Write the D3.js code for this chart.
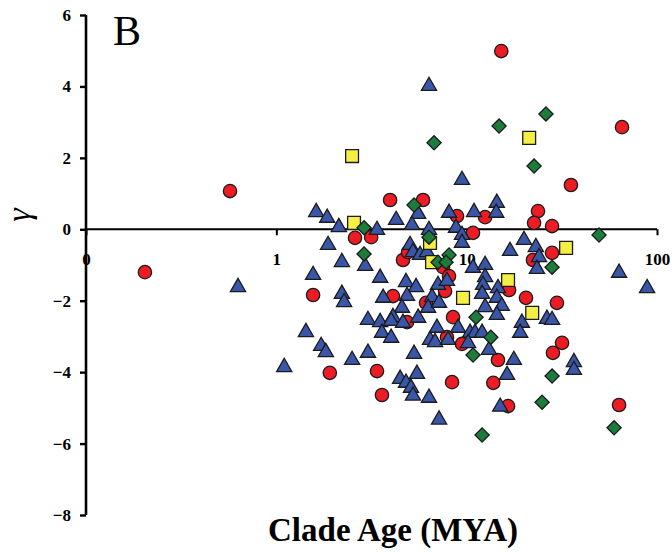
<!DOCTYPE html>
<html>
<head>
<meta charset="utf-8">
<script src="https://cdn.jsdelivr.net/npm/d3@7/dist/d3.min.js"></script>
<style>
    body { margin: 0; background: #fff; }
    svg text { font-family: "Liberation Serif", "Times New Roman", serif; }
</style>
</head>
<body>
<svg id="chart" width="672" height="552"></svg>
<script>
// clade age (MYA) and gamma for each group
var redAge = [0.204, 0.571, 15.2, 65.5, 35.3, 3.96, 5.90, 8.90, 12.5, 23.7, 22.6, 28.1, 10.8, 2.59, 3.15,
    4.63, 4.92, 7.51, 8.08, 28.1, 22.3, 1.56, 4.10, 7.70, 16.7, 20.5, 29.8, 6.12, 4.86, 8.48,
    7.88, 9.45, 14.6, 31.7, 28.4, 1.91, 3.38, 3.59, 8.38, 13.8, 16.5, 63.2];
var redGamma = [-1.20, 1.07, 4.99, 2.86, 1.24, 0.82, 0.82, 0.37, 0.34, 0.51, 0.18, 0.09, -0.10, -0.24, -0.22,
    -0.86, -0.64, -1.06, -1.31, -0.66, -0.86, -1.84, -1.87, -1.73, -1.70, -1.92, -2.06, -2.06, -2.60, -2.46,
    -3.02, -3.21, -3.66, -3.18, -3.46, -4.02, -3.97, -4.64, -4.28, -4.30, -4.95, -4.92];

var blueAge = [6.34, 9.45, 0.629, 1.62, 1.85, 2.13, 3.38, 4.26, 5.56, 5.16, 6.34, 8.08, 10.93, 14.4, 14.3,
    8.79, 9.45, 9.45, 20.0, 16.9, 23.1, 24.0, 23.4, 63.2, 88.7, 1.87, 2.21, 2.93, 1.56, 3.51,
    5.04, 5.22, 5.69, 6.19, 4.80, 5.42, 4.86, 7.07, 6.58, 7.88, 3.64, 2.21, 2.27, 10.8, 12.5,
    12.5, 12.19, 12.05, 14.6, 14.4, 15.3, 14.4, 12.5, 4.57, 4.10, 3.03, 3.51, 4.01, 4.63, 5.56,
    6.27, 7.16, 3.59, 4.01, 1.43, 1.72, 1.82, 1.10, 2.50, 3.03, 5.29, 4.47, 4.80, 5.10, 5.22,
    5.48, 6.34, 7.16, 6.98, 6.42, 6.82, 7.98, 9.01, 10.42, 11.06, 12.05, 10.17, 13.1, 17.7, 16.3,
    15.0, 26.4, 28.1, 19.5, 19.1, 36.6, 36.6];
var blueGamma = [4.01, 1.38, -1.62, 0.48, 0.32, 0.06, -0.02, 0.26, 0.43, 0.12, -0.02, 0.46, 0.48, 0.74, 0.46,
    0.04, -0.16, -0.38, -0.30, -0.61, -0.50, -0.78, -1.11, -1.22, -1.65, -0.44, -0.92, -1.03, -1.28, -1.36,
    -0.44, -0.64, -0.72, -0.64, -1.48, -1.62, -1.87, -1.56, -1.90, -1.45, -1.92, -1.81, -2.04, -1.08, -1.00,
    -1.34, -1.56, -1.81, -1.65, -1.92, -2.15, -2.40, -2.18, -2.20, -2.46, -2.54, -2.60, -2.57, -2.62, -2.48,
    -2.20, -2.06, -2.90, -3.04, -2.88, -3.27, -3.44, -3.86, -3.66, -3.46, -3.49, -4.19, -4.30, -4.44, -4.66,
    -4.05, -4.72, -5.33, -2.76, -3.10, -3.16, -3.10, -2.76, -2.90, -2.90, -2.90, -3.19, -3.38, -3.66, -4.08,
    -4.97, -2.51, -2.54, -2.62, -2.90, -3.72, -3.94];

var yellowAge = [2.50, 21.3, 2.56, 6.42, 6.58, 9.57, 16.5, 33.3, 22.1];
var yellowGamma = [2.05, 2.56, 0.18, -0.38, -0.92, -1.92, -1.42, -0.52, -2.34];

var greenAge = [6.74, 14.8, 26.1, 22.6, 5.29, 2.89, 6.34, 2.89, 7.07, 8.08, 7.79, 49.6, 28.1, 11.2, 13.4,
    10.8, 28.1, 24.9, 59.5, 12.05];
var greenGamma = [2.42, 2.89, 3.23, 1.77, 0.68, 0.04, -0.22, -0.69, -0.92, -0.72, -0.92, -0.16, -1.06, -2.46, -3.02,
    -3.52, -4.11, -4.84, -5.56, -5.76];

var xTickValues = [0.1, 1, 10, 100];
var xTickLabels = ["0", "1", "10", "100"];
var yTickValues = [-8, -6, -4, -2, 0, 2, 4, 6];

var svg = d3.select("#chart");

var x = d3.scaleLog().domain([0.1, 100]).range([86, 657]);
var y = d3.scaleLinear().domain([-8, 6]).range([515, 15]);

function zip(ages, gammas) {
    return ages.map(function(a, i) { return {age: a, gamma: gammas[i]}; });
}

// x axis sits on gamma = 0
var xAxis = svg.append("g")
    .attr("transform", "translate(0," + y(0) + ")")
    .call(d3.axisBottom(x).tickValues(xTickValues)
        .tickFormat(function(d, i) { return xTickLabels[i]; })
        .tickSize(6).tickPadding(18));
xAxis.select(".domain").attr("d", "M86,0H657").attr("stroke", "#000").attr("stroke-width", 2);
xAxis.selectAll(".tick line").attr("stroke", "#000").attr("stroke-width", 2);
xAxis.selectAll(".tick text")
    .attr("fill", "#000")
    .style("font-size", "17px").style("font-weight", "bold");

var yAxis = svg.append("g")
    .attr("transform", "translate(86,0)")
    .call(d3.axisLeft(y).tickValues(yTickValues).tickSize(6).tickPadding(9));
yAxis.select(".domain").attr("d", "M0," + y(6) + "V" + y(-8)).attr("stroke", "#000").attr("stroke-width", 2.6);
yAxis.selectAll(".tick line").attr("stroke", "#000").attr("stroke-width", 2.4);
yAxis.selectAll(".tick text")
    .attr("fill", "#000")
    .style("font-size", "17px").style("font-weight", "bold");

var plot = svg.append("g");

function drawSeries(data, symbol, size, fill, rotate) {
    plot.append("g").selectAll("path")
        .data(data)
        .enter()
        .append("path")
        .attr("d", d3.symbol().type(symbol).size(size))
        .attr("transform", function(d) {
            return "translate(" + x(d.age) + "," + y(d.gamma) + ")" + (rotate ? " rotate(45)" : "");
        })
        .style("fill", fill)
        .style("stroke", "#1b1b1b")
        .style("stroke-width", 1.3);
}

drawSeries(zip(redAge, redGamma), d3.symbolCircle, 140, "#ed1c24", false);
drawSeries(zip(blueAge, blueGamma), d3.symbolTriangle, 100, "#3a56a8", false);
drawSeries(zip(yellowAge, yellowGamma), d3.symbolSquare, 165, "#f4ef45", false);
drawSeries(zip(greenAge, greenGamma), d3.symbolSquare, 100, "#1c7c3c", true);

// panel letter and titles
svg.append("text")
    .attr("x", 113).attr("y", 45)
    .style("font-size", "42px")
    .text("B");

svg.append("text")
    .attr("transform", "translate(30,215) rotate(-90)")
    .attr("text-anchor", "middle")
    .style("font-size", "34px").style("font-style", "italic")
    .text("γ");

svg.append("text")
    .attr("x", 393).attr("y", 541)
    .attr("text-anchor", "middle")
    .style("font-size", "33px").style("font-weight", "bold")
    .text("Clade Age (MYA)");
</script>
</body>
</html>
